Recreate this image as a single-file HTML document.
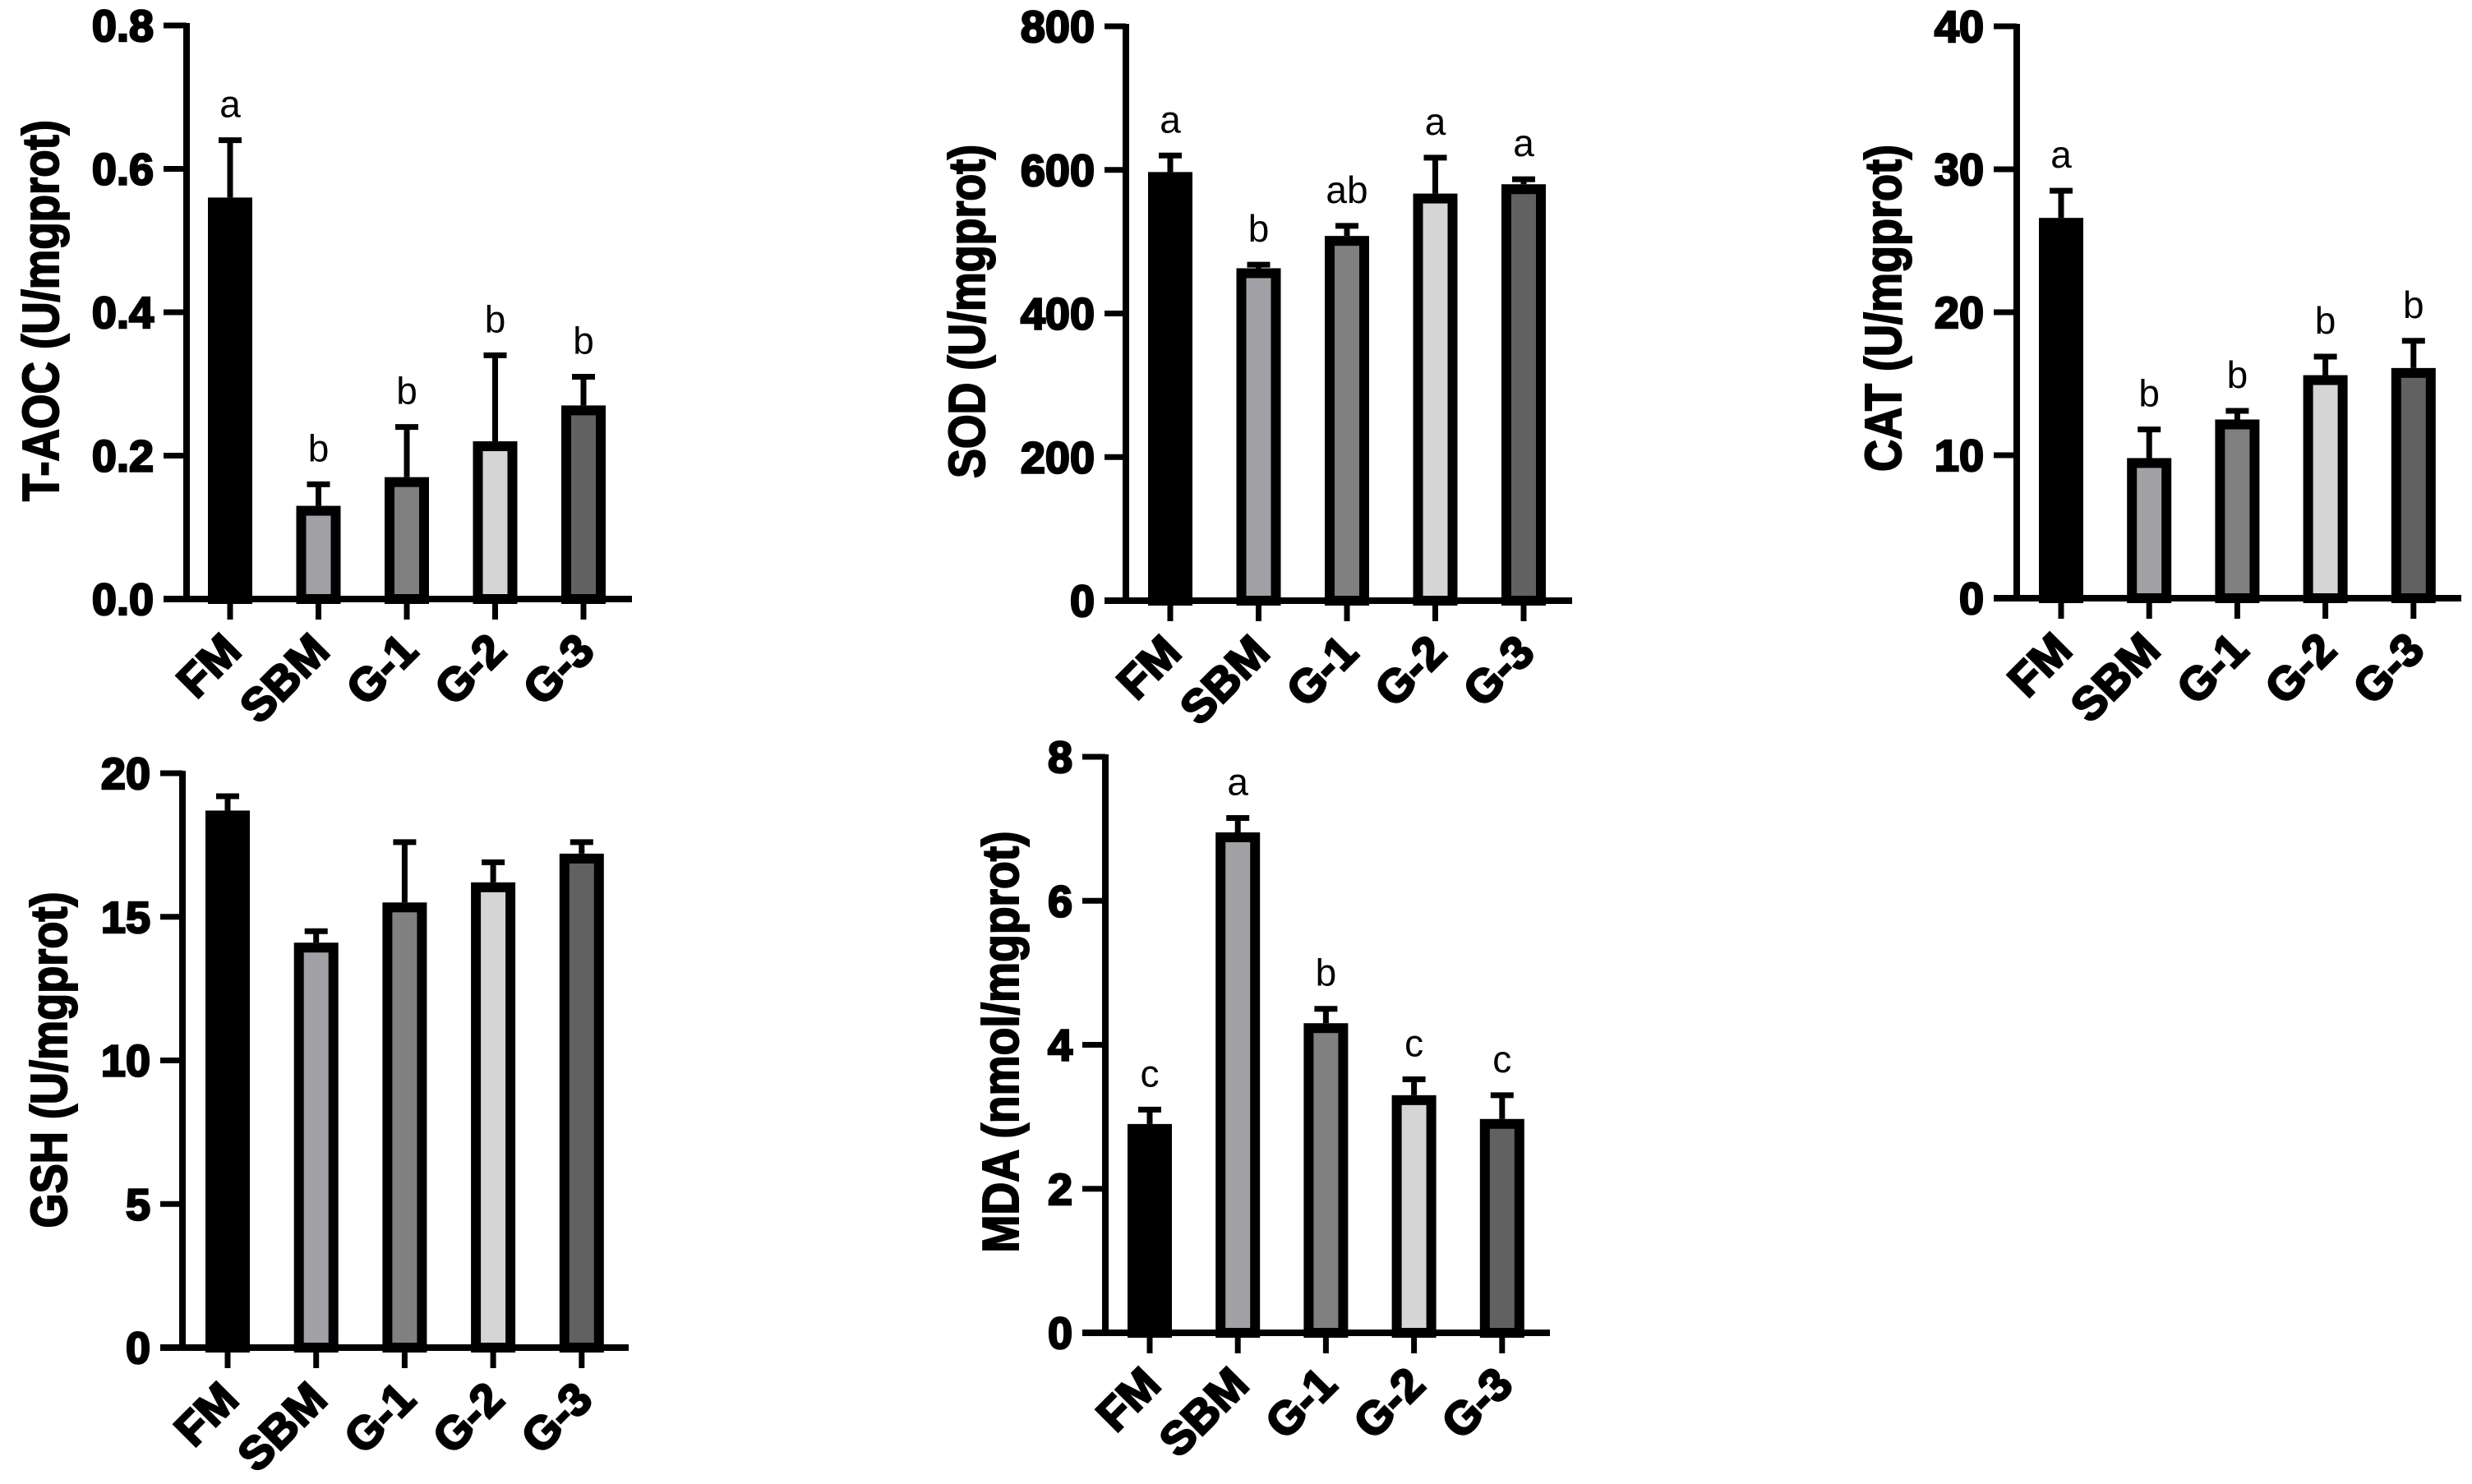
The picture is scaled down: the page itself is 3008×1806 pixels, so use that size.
<!DOCTYPE html>
<html><head><meta charset="utf-8"><style>
html,body{margin:0;padding:0;background:#fff;}
svg{display:block;}
text{font-family:"Liberation Sans",Arial,sans-serif;}
</style></head><body>
<svg id="fig" width="3008" height="1806" viewBox="0 0 3008 1806" xmlns="http://www.w3.org/2000/svg"></svg>
<script>
const categories = ["FM","SBM","G-1","G-2","G-3"];
const fills = ["#000000","#a1a1a5","#808080","#d5d5d5","#616161"];

const taocValues = [0.56,0.13,0.17,0.22,0.27];
const taocErrTop = [0.64,0.16,0.24,0.34,0.31];
const taocLetters = ["a","b","b","b","b"];
const taocTicks = ["0.0","0.2","0.4","0.6","0.8"];

const sodValues = [597,463,508,567,580];
const sodErrTop = [620,468,522,617,587];
const sodLetters = ["a","b","ab","a","a"];
const sodTicks = ["0","200","400","600","800"];

const catValues = [26.6,9.8,12.5,15.6,16.1];
const catErrTop = [28.5,11.8,13.1,16.9,18.0];
const catLetters = ["a","b","b","b","b"];
const catTicks = ["0","10","20","30","40"];

const gshValues = [18.7,14.1,15.5,16.2,17.2];
const gshErrTop = [19.2,14.5,17.6,16.9,17.6];
const gshLetters = ["","","","",""];
const gshTicks = ["0","5","10","15","20"];

const mdaValues = [2.9,6.95,4.3,3.3,2.97];
const mdaErrTop = [3.1,7.15,4.5,3.52,3.3];
const mdaLetters = ["c","a","b","c","c"];
const mdaTicks = ["0","2","4","6","8"];

const NS="http://www.w3.org/2000/svg";
const svg=document.getElementById('fig');
function mk(tag,attrs,parent){const e=document.createElementNS(NS,tag);for(const k in attrs)e.setAttribute(k,attrs[k]);(parent||svg).appendChild(e);return e;}

function panel(name,cfg){
  const g=mk('g',{});
  
  
  const tickVals=cfg.ticks.map(Number);
  const ymax=tickVals[tickVals.length-1];
  const y=v=>cfg.zero-(v/ymax)*(cfg.zero-cfg.top);
  const x=i=>cfg.x0+i*cfg.step;
  const ya=mk('line',{x1:cfg.ax,y1:cfg.top-3,x2:cfg.ax,y2:cfg.zero+4,stroke:'#000','stroke-width':8},g);
  
  
  cfg.ticks.forEach((t,i)=>{
    const yy=y(tickVals[i]);
    const tl=mk('line',{x1:cfg.axStart,y1:yy,x2:cfg.ax,y2:yy,stroke:'#000','stroke-width':7},g);
    
    
    const tx=mk('text',{x:cfg.axStart-12,y:yy+19,'text-anchor':'end','font-size':54,'font-weight':'bold',stroke:'#000','stroke-width':2.5},g);
    tx.textContent=t;
    
    
  });
  const xa=mk('line',{x1:cfg.axStart,y1:cfg.zero,x2:cfg.axEnd,y2:cfg.zero,stroke:'#000','stroke-width':8},g);
  
  
  categories.forEach((c,i)=>{
    const cx=x(i);
    const v=cfg.values[i], e=cfg.err[i];
    const el=mk('line',{x1:cx,y1:y(e),x2:cx,y2:y(v),stroke:'#000','stroke-width':7},g);
    
    
    const ec=mk('line',{x1:cx-14,y1:y(e),x2:cx+14,y2:y(e),stroke:'#000','stroke-width':7},g);
    
    
    const b=mk('rect',{x:cx-21,y:y(v)+6,width:42,height:Math.max(0,cfg.zero-y(v)-6),fill:fills[i],stroke:'#000','stroke-width':12},g);
    
    
    const xt=mk('line',{x1:cx,y1:cfg.zero,x2:cx,y2:cfg.zero+25,stroke:'#000','stroke-width':7},g);
    
    
    const lx=cx+16, ly=cfg.zero+66;
    const xl=mk('text',{x:lx,y:ly,'text-anchor':'end','font-size':56,'font-weight':'bold',stroke:'#000','stroke-width':2.5,transform:`rotate(-45 ${lx} ${ly})`},g);
    xl.textContent=c;
    
    
    if(cfg.letters[i]){
      const lt=mk('text',{x:cx,y:y(e)-28,'text-anchor':'middle','font-size':46},g);
      lt.textContent=cfg.letters[i];
      
      
    }
  });
  const tt=mk('text',{x:0,y:0,'text-anchor':'middle','font-size':62,'font-weight':'bold',stroke:'#000','stroke-width':2,textLength:cfg.tlen,lengthAdjust:'spacingAndGlyphs',transform:`translate(${cfg.tx+22} ${cfg.ty}) rotate(-90)`},g);
  tt.textContent=cfg.title;
  
  
}

panel('taoc',{values:taocValues,err:taocErrTop,letters:taocLetters,ticks:taocTicks,top:31,zero:729,ax:227,axStart:199,axEnd:769,x0:280,step:107.5,title:'T-AOC (U/mgprot)',tx:49,ty:378,tlen:464});
panel('sod',{values:sodValues,err:sodErrTop,letters:sodLetters,ticks:sodTicks,top:32,zero:731,ax:1370,axStart:1344,axEnd:1913,x0:1424,step:107.5,title:'SOD (U/mgprot)',tx:1176,ty:379,tlen:406});
panel('cat',{values:catValues,err:catErrTop,letters:catLetters,ticks:catTicks,top:32,zero:728,ax:2454,axStart:2426,axEnd:2995,x0:2508,step:107.2,title:'CAT (U/mgprot)',tx:2291,ty:375,tlen:398});
panel('gsh',{values:gshValues,err:gshErrTop,letters:gshLetters,ticks:gshTicks,top:941,zero:1640,ax:222,axStart:195,axEnd:765,x0:277,step:107.7,title:'GSH (U/mgprot)',tx:59,ty:1290,tlen:409});
panel('mda',{values:mdaValues,err:mdaErrTop,letters:mdaLetters,ticks:mdaTicks,top:921,zero:1622,ax:1345,axStart:1317,axEnd:1886,x0:1399,step:107.2,title:'MDA (nmol/mgprot)',tx:1217,ty:1268,tlen:513});
</script>
</body></html>
